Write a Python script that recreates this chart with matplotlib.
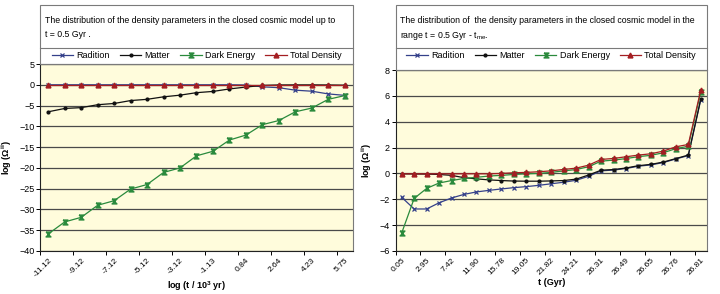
#!/usr/bin/env python3
"""
Density parameters in the closed cosmic model — two panels (early / late times).
"""
import matplotlib
matplotlib.use("Agg")
import matplotlib.pyplot as plt
from matplotlib.lines import Line2D

plt.rcParams["font.family"] = ["Liberation Sans", "DejaVu Sans"]
plt.rcParams["mathtext.fontset"] = "custom"
plt.rcParams["mathtext.rm"] = "Liberation Sans"
plt.rcParams["mathtext.bf"] = "Liberation Sans:bold"

# ───────────────────────── DATA ─────────────────────────
series = ["Radition", "Matter", "Dark Energy", "Total Density"]

# panel 1: log(t / 10^3 yr)
t_log = [-11.12, -10.12, -9.12, -8.12, -7.12, -6.12, -5.12, -4.12, -3.12, -2.12,
         -1.13, -0.13, 0.84, 1.79, 2.64, 3.48, 4.23, 5.02, 5.75]
rad1  = [0.0, 0.0, 0.0, 0.0, 0.0, 0.0, 0.0, 0.0, 0.0, 0.0,
         0.0, 0.0, -0.05, -0.5, -0.7, -1.3, -1.55, -2.2, -2.55]
mat1  = [-6.5, -5.7, -5.5, -4.8, -4.5, -3.8, -3.5, -2.9, -2.5, -1.9,
         -1.6, -1.0, -0.55, -0.15, -0.05, -0.03, -0.03, -0.05, -0.1]
de1   = [-35.9, -33.0, -31.9, -29.0, -27.9, -25.1, -24.0, -21.1, -20.0, -17.1,
         -16.0, -13.3, -12.1, -9.6, -8.6, -6.5, -5.6, -3.5, -2.6]
tot1  = [0.0, 0.0, 0.0, 0.0, 0.0, 0.0, 0.0, 0.0, 0.0, 0.0,
         0.0, 0.0, 0.0, 0.0, 0.0, 0.0, 0.0, 0.0, 0.0]

# panel 2: t (Gyr)
t_gyr = [0.05, 1.50, 2.95, 5.20, 7.42, 9.66, 11.90, 13.94, 15.78, 17.48,
         19.05, 20.49, 21.82, 23.05, 24.21, 25.32, 26.31, 26.41, 26.49, 26.57,
         26.65, 26.71, 26.76, 26.79, 26.81]
rad2  = [-1.85, -2.75, -2.75, -2.27, -1.9, -1.62, -1.43, -1.31, -1.2, -1.1,
         -1.02, -0.92, -0.8, -0.68, -0.53, -0.22, 0.2, 0.26, 0.38, 0.56,
         0.66, 0.84, 1.12, 1.38, 5.7]
mat2  = [-0.03, -0.04, -0.05, -0.08, -0.15, -0.33, -0.42, -0.5, -0.55, -0.59,
         -0.6, -0.6, -0.58, -0.55, -0.44, -0.12, 0.25, 0.3, 0.42, 0.6,
         0.7, 0.88, 1.15, 1.42, 5.75]
de2   = [-4.6, -1.93, -1.16, -0.74, -0.55, -0.39, -0.3, -0.2, -0.15, -0.08,
         -0.03, 0.0, 0.08, 0.2, 0.3, 0.52, 0.95, 1.03, 1.15, 1.3,
         1.4, 1.6, 1.92, 2.1, 6.3]
tot2  = [-0.03, -0.03, -0.03, -0.03, -0.03, -0.03, -0.03, -0.03, 0.0, 0.05,
         0.08, 0.13, 0.2, 0.31, 0.41, 0.64, 1.08, 1.16, 1.29, 1.42,
         1.52, 1.73, 2.06, 2.24, 6.45]

# ───────────────────────── STYLE ─────────────────────────
W, H = 720, 294
BG = "#FFFCDC"
FRAME = "#7a7a7a"
GRID = "#4a4a4a"
hourglass = [(-1, 1), (1, 1), (-1, -1), (1, -1), (-1, 1)]
STY = [
    dict(color="#34408a", marker="x", ms=3.5, mew=0.9),
    dict(color="#111111", marker="o", ms=2.0),
    dict(color="#2a8a3c", marker=hourglass, ms=3.5),
    dict(color="#a41e22", marker="^", ms=3.5),
]


def px(x0, y0, x1, y1):
    """pixel box (top-left origin) -> figure fraction rect"""
    return [x0 / W, 1 - y1 / H, (x1 - x0) / W, (y1 - y0) / H]


fig = plt.figure(figsize=(W / 100, H / 100), dpi=100)


def panel(box, ys, cats, ylim, ystep, title, xlabel):
    x0, y0, x1, y1 = box
    ax = fig.add_axes(px(*box))
    ax.set_facecolor(BG)
    n = len(cats)
    xs = list(range(n))
    for y, s in zip(ys, STY):
        ax.plot(xs, y, lw=0.9, **s)
    ax.set_xlim(-0.5, n - 0.5)
    ax.set_ylim(*ylim)
    ax.set_yticks(range(ylim[0], ylim[1] + 1, ystep))
    ax.yaxis.grid(True, color=GRID, lw=0.9)
    ax.set_axisbelow(True)
    # labels on every other category, tick marks on category boundaries
    ax.set_xticks(xs[::2])
    ax.set_xticklabels([f"{c:.2f}" for c in cats[::2]], rotation=45,
                       ha="right", va="top", rotation_mode="anchor", fontsize=6)
    ax.tick_params(axis="x", which="major", length=0, pad=4)
    ax.set_xticks([i - 0.5 for i in range(0, n, 2)], minor=True)
    ax.tick_params(axis="x", which="minor", length=3, width=0.7, direction="out")
    ax.tick_params(axis="y", length=3, width=0.7, labelsize=6.5, pad=1)
    for sp in ("top", "right"):
        ax.spines[sp].set_color(FRAME)
        ax.spines[sp].set_linewidth(0.8)
    for sp in ("left", "bottom"):
        ax.spines[sp].set_color("#222222")
        ax.spines[sp].set_linewidth(0.8)
    ax.set_xlabel(xlabel, fontsize=6.5, fontweight="bold", labelpad=1)
    ax.set_ylabel(r"log ($\mathbf{\Omega^{ii}}$)", fontsize=6.5, fontweight="bold", labelpad=4)

    # frame: title box + legend strip
    top = 5
    fig.add_artist(plt.Rectangle((x0 / W, 1 - y0 / H), (x1 - x0) / W, (y0 - top) / H,
                                 transform=fig.transFigure, fill=False, ec=FRAME, lw=0.8))
    fig.add_artist(Line2D([x0 / W, x1 / W], [1 - 47.7 / H] * 2,
                          transform=fig.transFigure, color=FRAME, lw=0.8))
    fig.text((x0 + 5) / W, 1 - 16 / H, title, fontsize=6.3, va="top", ha="left",
             linespacing=1.65)

    handles = [Line2D([], [], lw=0.9, **s) for s in STY]
    fig.legend(handles, series, loc="center", bbox_to_anchor=((x0 + x1) / 2 / W, 1 - 56 / H),
               ncol=4, frameon=False, fontsize=6.5, handlelength=2.4,
               handletextpad=0.35, columnspacing=1.1, borderaxespad=0)
    return ax


panel((40, 64, 353, 251), [rad1, mat1, de1, tot1], t_log, (-40, 5), 5,
      "The distribution of the density parameters in the closed cosmic model up to\nt = 0.5 Gyr .",
      r"log (t / 10$^{\mathbf{3}}$ yr)")
panel((395.5, 70, 707, 251), [rad2, mat2, de2, tot2], t_gyr, (-6, 8), 2,
      "The distribution of  the density parameters in the closed cosmic model in the\n"
      r"range t = 0.5 Gyr - t$_{\mathrm{me}}$.",
      "t (Gyr)")

fig.savefig("out.png", dpi=100, facecolor="white")
